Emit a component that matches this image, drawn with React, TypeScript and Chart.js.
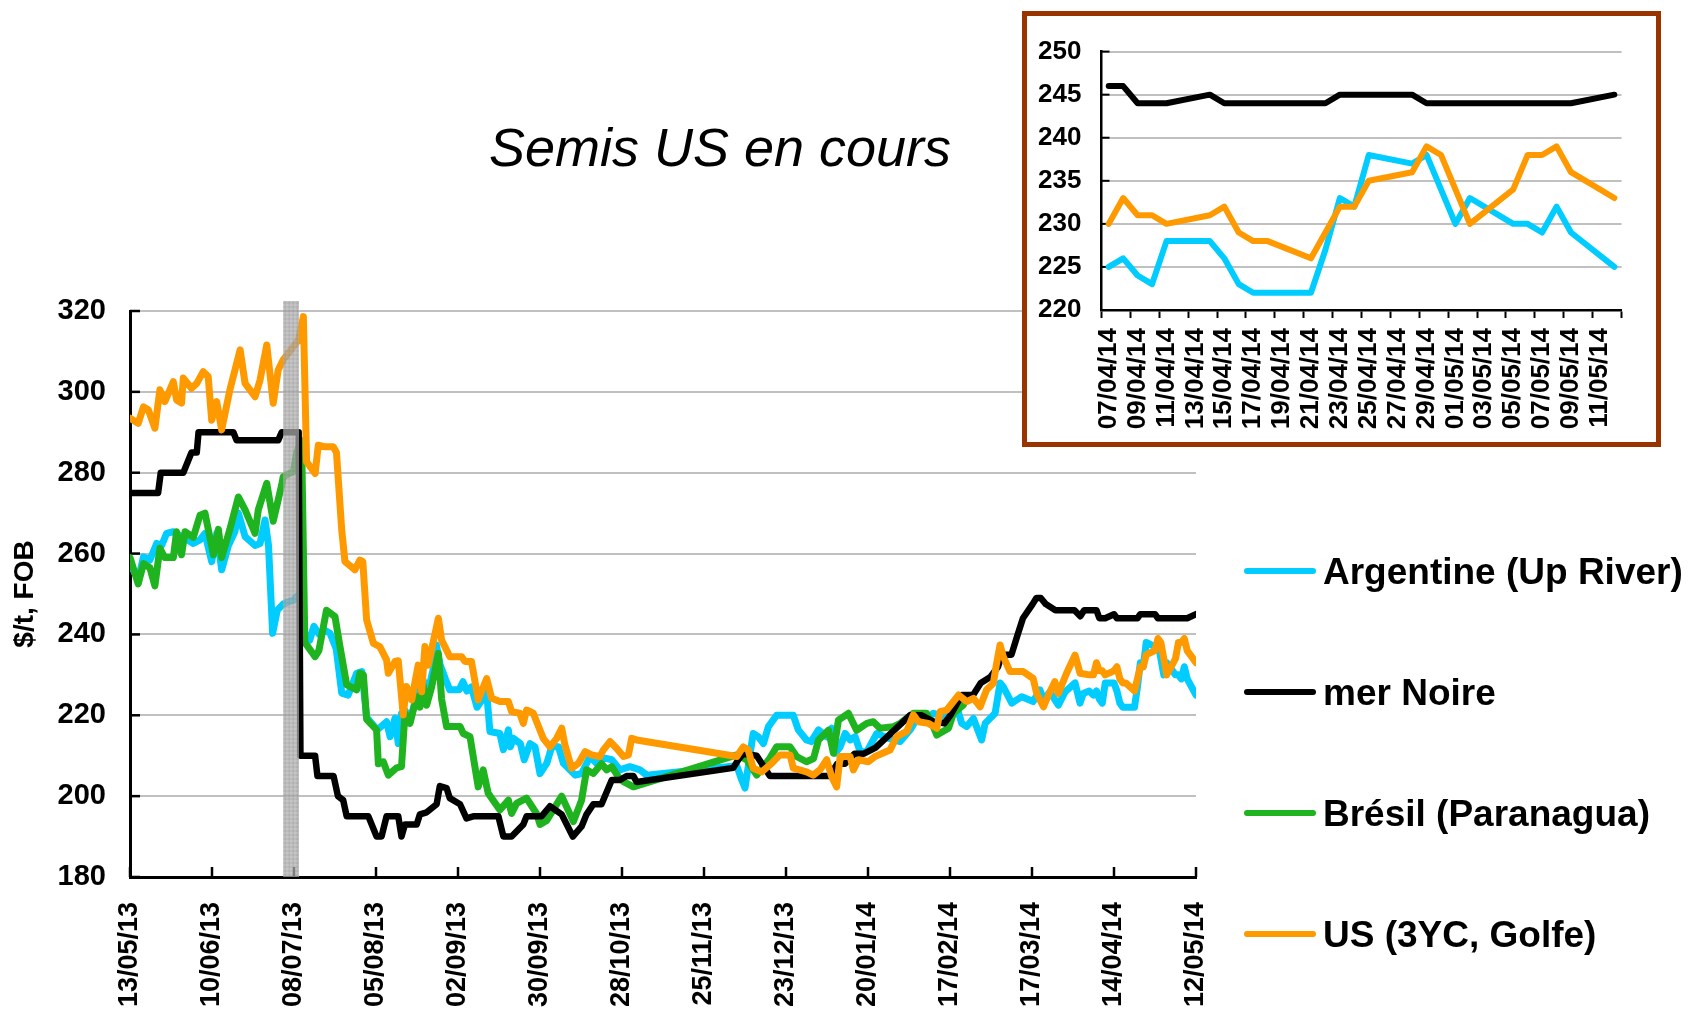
import { useEffect, useRef } from 'react';
import { Chart, registerables } from 'chart.js';

Chart.register(...registerables);

const FONT = '"Liberation Sans", Arial, Helvetica, sans-serif';

// ---------- data ----------
const mainTickLabels = [
  '13/05/13', '10/06/13', '08/07/13', '05/08/13', '02/09/13', '30/09/13', '28/10/13',
  '25/11/13', '23/12/13', '20/01/14', '17/02/14', '17/03/14', '14/04/14', '12/05/14',
];
const mainTickStepDays = 28;
const mainLastDay = 364;

const seriesNames = ['Argentine (Up River)', 'mer Noire', 'Brésil (Paranagua)', 'US (3YC, Golfe)'];
const seriesColors = ['#00CCFF', '#000000', '#1FB41F', '#FF9900'];

// [day since 13/05/13, $/t]
const argentine: [number, number][] = [
  [0, 257.6], [2.8, 253.5], [4.6, 259.2], [6.8, 258.4], [9.1, 262.5], [10.8, 262], [12.5, 265], [14.8, 265.4],
  [18.8, 263.8], [21.6, 262.5], [23.9, 263.4], [25.6, 265], [27.9, 258], [29.6, 265], [31.3, 256], [33.6, 262],
  [35.8, 265.4], [37, 270], [39.3, 264.2], [42.7, 262], [44.4, 262.5], [46.1, 268.3], [47.3, 262], [48.7, 240.3],
  [50.3, 246], [52.3, 247.5], [55.8, 248.5], [57.5, 249.8], [58.4, 250], [59.7, 240.3], [61.4, 238.6], [62.8, 242],
  [64.6, 240], [66.5, 241], [68.3, 240.3], [70.4, 236.5], [72.3, 225.5], [74.5, 225], [77.4, 230.4], [79.2, 230.8],
  [80.8, 219.5], [84.4, 216.4], [86.2, 217.5], [87.6, 218.4], [88.8, 214.7], [90.5, 219.3], [91.6, 213], [92.7, 220.5],
  [94.1, 221], [95.6, 218.5], [97.9, 225], [100.1, 228.7], [101.8, 226], [103.4, 231], [104.6, 237.4], [105.9, 232.5],
  [107.8, 228.8], [109.2, 226.3], [112.4, 226.3], [113.7, 228.3], [115, 226], [116.6, 227], [118.5, 222], [121.8, 225.5],
  [122.9, 216], [126.3, 215.5], [127.5, 211.5], [129.2, 216.4], [129.9, 212.2], [130.9, 214.3], [133.3, 213], [134.6, 209],
  [136.6, 213], [138.3, 212.2], [140, 205.6], [142.3, 208.1], [144, 212.2], [146.3, 212.2], [148, 208.1], [150.2, 206.5],
  [152, 205.2], [154.2, 205.6], [157.1, 209.8], [159.3, 208.1], [162.2, 209.4], [164.5, 209], [167.3, 206.5], [170.7, 207.3],
  [174.1, 206.5], [176.4, 205.2], [207.2, 207.5], [208.9, 204], [210, 202], [212.8, 215.5], [214.5, 214.7], [216.3, 213],
  [218, 217.2], [220.8, 220], [226.5, 220], [228.2, 216.4], [231, 213.9], [232.6, 213.5], [235.1, 216.4], [237.9, 214.7],
  [239.6, 216.8], [240.8, 210.6], [242.5, 212.2], [244.2, 215.5], [245.9, 213.9], [247.6, 214.7], [249.3, 211], [251.6, 211],
  [255, 215.5], [259, 214.3], [263, 213.5], [266.4, 216.4], [269.2, 219.7], [272, 218.8], [274.3, 220.5], [277.7, 219.7],
  [278.9, 221.3], [282.3, 222.1], [284, 218], [285.7, 217.2], [288, 219.2], [290.8, 213.9], [292, 218], [295.4, 220.5],
  [297.1, 228], [298.2, 227], [301.1, 223], [304.5, 224.6], [308.4, 223.4], [310.7, 226.3], [311.9, 223.8], [314.1, 225.8],
  [317, 222.5], [319.3, 225.8], [322.7, 228], [324.4, 223], [325.5, 225.4], [327.5, 226],
  [329, 225], [330, 226], [331, 224], [332, 223], [333, 228], [336, 228], [337, 226], [338, 223], [339, 222], [340, 222],
  [343, 222], [344, 227], [345, 233], [346, 232], [347, 238], [350, 237], [351, 238], [352, 234], [353, 230], [354, 233],
  [357, 230], [358, 230], [359, 229], [360, 232], [361, 229], [364, 225],
];

const merNoire: [number, number][] = [
  [0, 275], [9.6, 275], [10.5, 280], [18.2, 280], [21, 285], [22.8, 285], [23.4, 290], [35.3, 290], [36.4, 288],
  [50.6, 288], [51.8, 290], [57.6, 290], [58.2, 210], [63.2, 210], [64, 205], [69.5, 205], [71, 200], [72.8, 199],
  [74, 195], [81.4, 195], [84.2, 190], [85.9, 190], [87.6, 195], [91.6, 195], [92.7, 190], [93.9, 193], [97.9, 193],
  [99, 195.5], [101.3, 196], [104.7, 198], [105.8, 202.5], [108.1, 202], [109.2, 199.5], [112.7, 198], [114.9, 194.5],
  [117.2, 195], [125.8, 195], [127.5, 190], [130.3, 190], [134.3, 193], [135.4, 195], [140.5, 195], [143.4, 197.5],
  [147.4, 195.5], [151.2, 190], [154.2, 192.5], [155.9, 195.5], [158.2, 198], [161, 198], [164.5, 204], [167.3, 204],
  [169.6, 205], [171.9, 205], [173, 203.5], [206, 207], [207.7, 209], [209.4, 210.5], [214, 210], [218.5, 205],
  [238.9, 205], [241.5, 208], [244.1, 208], [247.4, 210.5], [250.6, 210.5], [254.6, 212], [259.8, 215.5], [266.3, 220],
  [270.3, 220], [274.2, 218.5], [278.1, 218], [280.1, 220], [284, 225], [287.9, 225], [290.5, 228], [293.8, 229.5],
  [296.4, 232], [297.7, 235], [301, 235], [302.9, 239.5], [304.9, 244], [308.2, 247.5], [309.5, 249], [311, 249],
  [312.7, 247.5], [316, 246], [322.5, 246], [324.5, 244.5], [325.8, 246],
  [329, 246], [330, 246], [331, 244], [332, 244], [333, 244], [336, 245], [337, 244], [343, 244], [344, 244],
  [345, 245], [350, 245], [351, 244], [361, 244], [364, 245],
];

const bresil: [number, number][] = [
  [0, 259], [2.8, 252.5], [4.6, 257.5], [6.8, 256.5], [8.5, 252], [10.2, 261.3], [11.9, 259], [14.8, 259],
  [15.9, 265.4], [17.6, 259.7], [18.8, 265.4], [21.6, 264], [23.9, 269.5], [25.6, 270], [28.5, 259.7], [30.2, 266],
  [31.3, 259], [34.1, 266], [37, 274], [39.3, 270.8], [42.7, 265], [43.8, 270.8], [46.7, 277.4], [48.9, 268],
  [51.8, 277], [52.3, 279], [55.8, 280.3], [56.9, 285], [58.6, 288], [59.7, 238], [63.2, 234.5], [64.5, 236],
  [67.1, 246], [70, 244.4], [71.7, 237], [74, 227.5], [77.4, 226.3], [78.5, 230.4], [79.7, 230], [80.8, 219],
  [84.2, 216.4], [84.8, 208], [86.5, 208.5], [88.2, 205.2], [91, 207], [92.7, 207.3], [93.9, 220.5], [95.6, 218],
  [97.9, 224.6], [99, 222], [100.1, 227.5], [101.3, 222.5], [103, 227], [105.3, 235.3], [106.4, 224], [108.1, 217.2],
  [112.7, 217.2], [113.8, 215.5], [116.1, 214.7], [118.9, 202.3], [120.6, 206.5], [122.3, 200.7], [126.3, 196.6],
  [129.2, 199], [130.3, 195.7], [132, 198.2], [135.4, 199.5], [138.8, 195.7], [140, 193], [142.3, 194], [147.4, 200],
  [151.4, 193.7], [154.2, 199], [155.9, 206.5], [158.2, 205.6], [161, 208], [162.8, 206.5], [164.5, 207.3],
  [166.7, 204.8], [168.5, 203.6], [171.9, 202.3], [207.2, 210.2], [210.6, 209], [214, 205.2], [218.5, 209.4],
  [220.8, 212.2], [225.4, 212.2], [227.6, 209.8], [231, 208.5], [233.4, 209.3], [235.1, 213.9], [238.5, 216.3],
  [240.2, 210.6], [241.9, 218.8], [245.3, 220.5], [248.1, 216.3], [251.6, 218], [253.8, 218.4], [256.1, 216.8],
  [260.7, 217.2], [263, 218], [267.5, 220.5], [272, 220.5], [274.3, 217.2], [275.5, 215.1], [279.5, 216.8],
  [281.2, 220.5], [284.6, 222.6],
];

const usGolfe: [number, number][] = [
  [0, 293.5], [2.8, 292.2], [4.6, 296.3], [6.3, 295.5], [8.5, 291], [10.2, 300.5], [11.9, 297.6], [14.8, 302.5],
  [15.9, 298], [17.6, 297.2], [18.2, 303.4], [21, 300.9], [22.8, 302.1], [25, 305], [26.7, 303.8], [27.9, 293],
  [29.6, 297.6], [31.3, 290.6], [34.1, 300.5], [37.6, 310.4], [39.3, 302.1], [42.7, 298.8], [44.4, 302.9],
  [46.7, 311.6], [48.9, 297.2], [50.6, 305.4], [52.3, 307.9], [55.8, 311.2], [57.5, 312.8], [59.2, 318.6],
  [60.3, 282.7], [63.2, 279.8], [64.3, 286.8], [66.6, 286.4], [69.4, 286.4], [70.5, 285], [72.3, 265.8], [73.4, 258],
  [76.8, 256], [78.5, 258.4], [79.5, 258], [80.8, 243.6], [83.1, 237.8], [85.3, 237], [87.6, 233.7], [88.2, 230.4],
  [90.5, 233.3], [91.6, 233.5], [93.3, 220.1], [94.4, 227.1], [96.2, 223.8], [98.4, 232.4], [99.6, 225.8], [100.7, 237],
  [101.8, 232.4], [105.3, 244], [106.4, 238.6], [109.2, 234.5], [113.2, 234.5], [114.4, 233.3], [116.6, 233.3],
  [118.9, 223.8], [121.8, 229.1], [123.5, 224.2], [126.3, 223.4], [129.2, 223.4], [130.3, 220.9], [133.1, 220.5],
  [134.3, 218], [135.4, 221.3], [137.7, 220.5], [141.1, 214.3], [143.4, 212.2], [145.7, 214.3], [147.4, 216.8],
  [148.5, 212.7], [150.8, 206.9], [153.1, 208.1], [155.4, 211], [157.6, 210.2], [160.5, 209.8], [161.6, 211.4],
  [163.9, 213.5], [166.2, 211.8], [168.5, 209.8], [170.2, 210.2], [171.3, 214.3], [173, 213.9], [207.2, 209.8],
  [209.4, 212.2], [211.1, 211.4], [212.8, 206.9], [215.7, 206], [219.1, 208.1], [221.9, 210.2], [225.4, 210.2],
  [226.5, 206.9], [231, 206], [233.3, 205.2], [235.6, 206.5], [237.9, 209], [239.6, 204.8], [241.3, 202.3],
  [242.5, 209.8], [245.9, 209.8], [247, 206.5], [248.7, 209], [252.1, 208.5], [254.4, 209.8], [259.5, 211.4],
  [261.8, 214.7], [265.2, 216], [267.5, 220.1], [269.2, 218.4], [272.6, 218], [275.5, 216.8], [276.6, 220.9],
  [278.9, 221.3], [282.9, 225], [285.7, 223.4], [288, 224.2], [290.3, 222.1], [292.5, 226.3], [294.8, 227.9],
  [295.9, 232.8], [297.1, 237.4], [298.2, 234.5], [300.5, 230.8], [305, 230.8], [308.4, 229.1], [309.6, 225.4],
  [311.9, 222.1], [313.6, 225], [315.8, 228.3], [317, 225.4], [319.8, 230.4], [322.7, 234.9], [324.4, 230.4],
  [327.5, 230],
  [329, 230], [330, 233], [331, 231], [332, 231], [333, 230], [336, 231], [337, 232], [338, 229], [339, 228], [340, 228],
  [343, 226], [344, 229], [345, 232], [346, 232], [347, 235], [350, 236], [351, 239], [352, 238], [353, 234], [354, 230],
  [357, 234], [358, 238], [359, 238], [360, 239], [361, 236], [364, 233],
];

// shaded period (days since 13/05/13)
const shadeFromDay = 52.3;
const shadeToDay = 57.7;

const titleText = 'Semis US en cours';
const yAxisTitle = '$/t, FOB';

// inset: 07/04/14 -> 12/05/14, daily, no quotes at weekends
const insetDates = [
  '07/04/14', '08/04/14', '09/04/14', '10/04/14', '11/04/14', '12/04/14', '13/04/14', '14/04/14', '15/04/14',
  '16/04/14', '17/04/14', '18/04/14', '19/04/14', '20/04/14', '21/04/14', '22/04/14', '23/04/14', '24/04/14',
  '25/04/14', '26/04/14', '27/04/14', '28/04/14', '29/04/14', '30/04/14', '01/05/14', '02/05/14', '03/05/14',
  '04/05/14', '05/05/14', '06/05/14', '07/05/14', '08/05/14', '09/05/14', '10/05/14', '11/05/14', '12/05/14',
];
const insetArgentine = [
  225, 226, 224, 223, 228, null, null, 228, 226, 223, 222, 222, null, null, 222, 227, 233, 232,
  238, null, null, 237, 238, 234, 230, 233, null, null, 230, 230, 229, 232, 229, null, null, 225,
];
const insetMerNoire = [
  246, 246, 244, 244, 244, null, null, 245, 244, 244, 244, 244, null, null, 244, 244, 245, 245,
  245, null, null, 245, 244, 244, 244, 244, null, null, 244, 244, 244, 244, 244, null, null, 245,
];
const insetUS = [
  230, 233, 231, 231, 230, null, null, 231, 232, 229, 228, 228, null, null, 226, 229, 232, 232,
  235, null, null, 236, 239, 238, 234, 230, null, null, 234, 238, 238, 239, 236, null, null, 233,
];

// ---------- plugins ----------
const inwardTicks = {
  id: 'inwardTicks',
  beforeDatasetsDraw(chart: any, _a: any, o: any) {
    if (!o) return;
    const { ctx, chartArea } = chart;
    ctx.save();
    ctx.strokeStyle = '#000';
    ctx.lineWidth = o.width;
    if (o.x) {
      const s = chart.scales.x;
      s.ticks.forEach((_t: any, i: number) => {
        const p = s.getPixelForTick(i);
        ctx.beginPath();
        ctx.moveTo(p, chartArea.bottom);
        ctx.lineTo(p, chartArea.bottom - o.len);
        ctx.stroke();
      });
    }
    if (o.y) {
      const s = chart.scales.y;
      s.ticks.forEach((_t: any, i: number) => {
        const p = s.getPixelForTick(i);
        ctx.beginPath();
        ctx.moveTo(chartArea.left, p);
        ctx.lineTo(chartArea.left + o.len, p);
        ctx.stroke();
      });
    }
    ctx.restore();
  },
};

const shadePlugin = {
  id: 'shade',
  afterDatasetsDraw(chart: any, _a: any, o: any) {
    if (!o) return;
    const { ctx, chartArea } = chart;
    const xs = chart.scales.x;
    const x0 = xs.getPixelForValue(o.from);
    const x1 = xs.getPixelForValue(o.to);
    const top = chartArea.top - o.extendTop;
    const bottom = chartArea.bottom;
    ctx.save();
    ctx.fillStyle = o.color;
    ctx.fillRect(x0, top, x1 - x0, bottom - top);
    ctx.strokeStyle = o.hatch;
    ctx.lineWidth = 1;
    for (let xx = x0 + 2; xx < x1; xx += 4) {
      ctx.beginPath();
      ctx.moveTo(xx, top);
      ctx.lineTo(xx, bottom);
      ctx.stroke();
    }
    for (let yy = top + 2; yy < bottom; yy += 4) {
      ctx.beginPath();
      ctx.moveTo(x0, yy);
      ctx.lineTo(x1, yy);
      ctx.stroke();
    }
    ctx.restore();
  },
};

const sideLegend = {
  id: 'sideLegend',
  afterDraw(chart: any, _a: any, o: any) {
    if (!o) return;
    const { ctx } = chart;
    ctx.save();
    chart.data.datasets.forEach((ds: any, i: number) => {
      const y = o.top + i * o.step;
      ctx.strokeStyle = ds.borderColor;
      ctx.lineWidth = o.lineWidth;
      ctx.lineCap = 'round';
      ctx.beginPath();
      ctx.moveTo(o.left, y);
      ctx.lineTo(o.left + o.lineLength, y);
      ctx.stroke();
      ctx.fillStyle = '#000';
      ctx.font = `bold ${o.fontSize}px ${FONT}`;
      ctx.textAlign = 'left';
      ctx.textBaseline = 'alphabetic';
      ctx.fillText(ds.label, o.textLeft, y + o.fontSize * 0.36);
    });
    ctx.restore();
  },
};

const freeTitle = {
  id: 'freeTitle',
  afterDraw(chart: any, _a: any, o: any) {
    if (!o) return;
    const { ctx } = chart;
    ctx.save();
    ctx.fillStyle = '#000';
    ctx.font = `italic ${o.fontSize}px ${FONT}`;
    ctx.textAlign = 'center';
    ctx.textBaseline = 'alphabetic';
    ctx.fillText(o.text, o.x, o.y);
    ctx.restore();
  },
};

// ---------- configs ----------
const toXY = (pts: [number, number][]) => pts.map(([x, y]) => ({ x, y }));
const mainSeries = [argentine, merNoire, bresil, usGolfe];
const drawOrder = [3, 1, 2, 0];

function mainConfig(): any {
  return {
    type: 'line',
    data: {
      datasets: mainSeries.map((pts, i) => ({
        label: seriesNames[i],
        data: toXY(pts),
        borderColor: seriesColors[i],
        backgroundColor: seriesColors[i],
        borderWidth: i === 1 ? 6.5 : 7,
        pointRadius: 0,
        tension: 0,
        fill: false,
        borderJoinStyle: 'round',
        borderCapStyle: 'round',
        order: drawOrder[i],
      })),
    },
    plugins: [inwardTicks, shadePlugin, sideLegend, freeTitle],
    options: {
      responsive: false,
      animation: false,
      events: [],
      layout: { padding: { top: 311, right: 494, bottom: 0, left: 0 } },
      plugins: {
        legend: { display: false },
        tooltip: { enabled: false },
        inwardTicks: { x: true, y: true, len: 10, width: 2.5 },
        shade: { from: shadeFromDay, to: shadeToDay, extendTop: 10, color: 'rgba(175,175,175,0.72)', hatch: 'rgba(120,120,120,0.25)' },
        sideLegend: { left: 1247, top: 571, step: 121, lineLength: 66, lineWidth: 6, textLeft: 1323, fontSize: 37 },
        freeTitle: { text: titleText, x: 720, y: 166, fontSize: 54 },
      },
      scales: {
        x: {
          type: 'linear',
          min: 0,
          max: mainLastDay,
          afterFit: (s: any) => { s.height = 137; },
          grid: { display: false },
          border: { display: true, color: '#000', width: 3 },
          ticks: {
            stepSize: mainTickStepDays,
            autoSkip: false,
            minRotation: 90,
            maxRotation: 90,
            padding: 17,
            color: '#000',
            font: { family: FONT, size: 27, weight: 'bold' },
            callback: (v: number) => mainTickLabels[Math.round(v / mainTickStepDays)] ?? '',
          },
        },
        y: {
          min: 180,
          max: 320,
          afterFit: (s: any) => { s.width = 130; },
          grid: { color: '#C0C0C0', lineWidth: 2, drawTicks: false },
          border: { display: true, color: '#000', width: 3 },
          ticks: { stepSize: 20, padding: 24, color: '#000', font: { family: FONT, size: 29, weight: 'bold' } },
          title: {
            display: true,
            text: yAxisTitle,
            color: '#000',
            font: { family: FONT, size: 28, weight: 'bold' },
            padding: { top: 8, bottom: 0 },
          },
        },
      },
    },
  };
}

function insetConfig(): any {
  const ds = [
    { data: insetArgentine, color: seriesColors[0], order: 2 },
    { data: insetMerNoire, color: seriesColors[1], order: 1 },
    { data: insetUS, color: seriesColors[3], order: 0 },
  ];
  return {
    type: 'line',
    data: {
      labels: insetDates,
      datasets: ds.map((d) => ({
        data: d.data,
        borderColor: d.color,
        backgroundColor: d.color,
        borderWidth: 6,
        pointRadius: 0,
        tension: 0,
        spanGaps: true,
        fill: false,
        borderJoinStyle: 'round',
        borderCapStyle: 'round',
        order: d.order,
      })),
    },
    plugins: [inwardTicks],
    options: {
      responsive: false,
      animation: false,
      events: [],
      layout: { padding: { top: 34, right: 33, bottom: 0, left: 0 } },
      plugins: {
        legend: { display: false },
        tooltip: { enabled: false },
        inwardTicks: { x: false, y: true, len: 8, width: 2 },
      },
      scales: {
        x: {
          type: 'category',
          offset: true,
          afterFit: (s: any) => { s.height = 132; },
          grid: {
            display: true,
            drawOnChartArea: false,
            drawTicks: true,
            tickLength: 8,
            offset: true,
            tickWidth: 2,
            tickColor: (c: any) => (c.index === undefined || c.index % 2 === 0 ? '#000' : 'rgba(0,0,0,0)'),
          },
          border: { display: true, color: '#000', width: 2.5 },
          ticks: {
            autoSkip: false,
            minRotation: 90,
            maxRotation: 90,
            padding: 10,
            color: '#000',
            font: { family: FONT, size: 26, weight: 'bold' },
            callback: (_v: any, i: number) => (i % 2 === 0 ? insetDates[i] : ''),
          },
        },
        y: {
          min: 220,
          max: 250,
          afterFit: (s: any) => { s.width = 74.5; },
          grid: { color: '#C0C0C0', lineWidth: 2, drawTicks: false },
          border: { display: true, color: '#000', width: 2.5 },
          ticks: { stepSize: 5, padding: 20, color: '#000', font: { family: FONT, size: 26, weight: 'bold' } },
        },
      },
    },
  };
}

export default function App() {
  const mainRef = useRef<HTMLCanvasElement>(null);
  const insetRef = useRef<HTMLCanvasElement>(null);

  useEffect(() => {
    const main = new Chart(mainRef.current as HTMLCanvasElement, mainConfig());
    const inset = new Chart(insetRef.current as HTMLCanvasElement, insetConfig());
    return () => {
      main.destroy();
      inset.destroy();
    };
  }, []);

  return (
    <div style={{ position: 'absolute', left: 0, top: 0, width: 1690, height: 1014, background: '#fff', overflow: 'hidden' }}>
      <canvas
        ref={mainRef}
        width={1690}
        height={1014}
        style={{ position: 'absolute', left: 0, top: 0, width: 1690, height: 1014 }}
      />
      <div
        style={{
          position: 'absolute',
          left: 1022,
          top: 11,
          width: 639,
          height: 436,
          border: '5px solid #993300',
          boxSizing: 'border-box',
          background: '#fff',
        }}
      >
        <canvas ref={insetRef} width={629} height={426} style={{ display: 'block', width: 629, height: 426 }} />
      </div>
    </div>
  );
}
